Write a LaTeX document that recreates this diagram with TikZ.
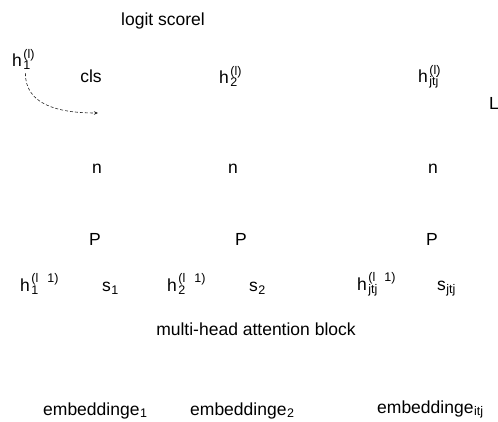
\documentclass[tikz,border=0pt]{standalone}
\usepackage{fontspec}
\setmainfont{Liberation Sans}
\usetikzlibrary{arrows.meta}
% stacked superscript/subscript pair, width of the wider one
\newcommand\supsub[2]{{\kern1.5pt\fontsize{12.5}{14}\selectfont
  \setbox0=\hbox{#1}\setbox2=\hbox{#2}%
  \ifdim\wd0>\wd2 \rlap{\raisebox{-3pt}{#2}}\raisebox{8.5pt}{#1}%
  \else \rlap{\raisebox{8.5pt}{#1}}\raisebox{-3pt}{#2}\fi}}
\newcommand\lowsub[2][3pt]{{\kern0.5pt\fontsize{12.5}{14}\selectfont\raisebox{-#1}{#2}}}
\begin{document}
\begin{tikzpicture}[x=1pt,y=-1pt,
  lbl/.style={inner sep=0pt,anchor=base west,font=\fontsize{17.5}{20}\selectfont},
  clbl/.style={inner sep=0pt,anchor=base,font=\fontsize{17.5}{20}\selectfont},
  flow/.style={draw=black!85,line width=0.6pt,dash pattern=on 3pt off 2pt,
    -{Stealth[length=4pt,width=3.5pt]}}]
\useasboundingbox (0,0) rectangle (498,422);

% output layer
\node[clbl] (logit) at (163,26) {logit scorel};
\node[lbl] (h1top) at (12,67) {h\supsub{(l)}{1}};
\node[clbl] (cls) at (91,83) {cls};
\node[lbl] (h2top) at (219,84) {h\supsub{(l)}{2}};
\node[lbl] (hjtop) at (418,83) {h\supsub{(l)}{jtj}};
\node[lbl] (loss) at (489,110) {L};

% intermediate rows
\node[clbl] (n1) at (97,174) {n};
\node[clbl] (n2) at (233,174) {n};
\node[clbl] (n3) at (433,174) {n};
\node[clbl] (p1) at (95,245) {P};
\node[clbl] (p2) at (241,245) {P};
\node[clbl] (p3) at (432,245) {P};

% previous-layer states and scores
\node[lbl] (h1prev) at (20,291) {h\supsub{(l\hspace{9pt}1)}{1}};
\node[lbl] (s1) at (102,291) {s\lowsub{1}};
\node[lbl] (h2prev) at (167,291) {h\supsub{(l\hspace{9pt}1)}{2}};
\node[lbl] (s2) at (249,291) {s\lowsub{2}};
\node[lbl] (hjprev) at (357,290) {h\supsub{(l\hspace{9pt}1)}{jtj}};
\node[lbl] (sj) at (437,290) {s\lowsub{jtj}};

\node[clbl] (mha) at (256,335) {multi-head attention block};

% embeddings
\node[lbl] (e1) at (43,415) {embeddinge\lowsub[2pt]{1}};
\node[lbl] (e2) at (190,415) {embeddinge\lowsub[2pt]{2}};
\node[lbl] (ej) at (377,413) {embeddinge\lowsub[2pt]{itj}};

% dashed pointer from h_1 towards cls
\coordinate (clsin) at (98,113);
\draw[flow] ([xshift=2pt,yshift=-3pt]h1top.south) .. controls +(0,30) and (55,113) .. (clsin);
\end{tikzpicture}
\end{document}
